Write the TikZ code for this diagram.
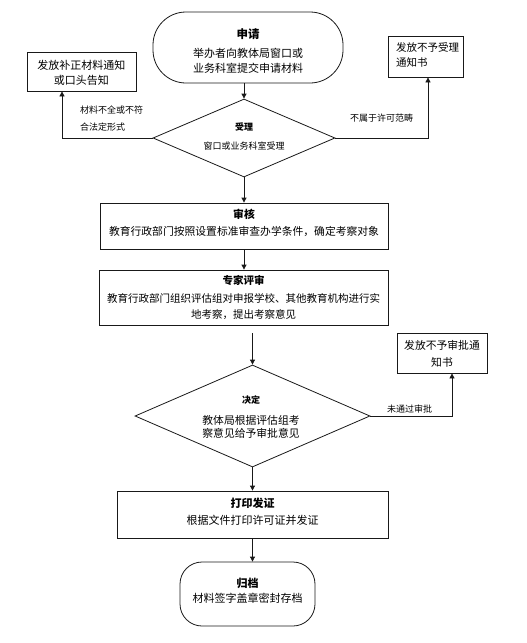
\documentclass[tikz,border=0pt]{standalone}
\usepackage{fontspec}
\setmainfont{Noto Sans CJK SC}
\usetikzlibrary{shapes.geometric,arrows.meta}
\begin{document}
\begin{tikzpicture}[x=1pt,y=-1pt,
  shp/.style={draw=black!90, line width=0.8pt, inner sep=0pt},
  boxshape/.style={shp, rectangle},
  termshape/.style={shp, rectangle},
  decshape/.style={shp, diamond},
  txt/.style={inner sep=0pt, align=center, font=\fontsize{11}{15}\selectfont},
  lbl/.style={inner sep=0pt, align=left, font=\fontsize{9}{17}\selectfont},
  arr/.style={draw=black!90, line width=0.8pt, -{Triangle[length=5pt,width=5pt]}}
]
\useasboundingbox (0,0) rectangle (527,643);

% shapes
\node[termshape, rounded corners=33pt, minimum width=190pt, minimum height=71pt] (sq) at (248,47.5) {};
\node[decshape, aspect=2.33, minimum width=182pt, minimum height=78pt] (d1) at (244,138) {};
\node[boxshape, minimum width=109pt, minimum height=39pt] (lb) at (81.5,71.5) {};
\node[boxshape, minimum width=75pt, minimum height=41pt] (rb1) at (425.5,56.5) {};
\node[boxshape, minimum width=288pt, minimum height=46pt] (sh) at (244,226) {};
\node[boxshape, minimum width=289pt, minimum height=55pt] (zj) at (243.5,297.5) {};
\node[decshape, aspect=2.3, minimum width=235pt, minimum height=102pt] (d2) at (252.5,416) {};
\node[boxshape, minimum width=90pt, minimum height=40pt] (rb2) at (442,353) {};
\node[boxshape, minimum width=271pt, minimum height=47pt] (dy) at (252.5,514.5) {};
\node[termshape, rounded corners=22pt, minimum width=135pt, minimum height=64pt] (gd) at (247.5,594) {};

% texts
\node[txt] (sq-t) at (248,51) {{\fontsize{11.5}{15}\selectfont\bfseries 申请}\\[4pt]举办者向教体局窗口或\\业务科室提交申请材料};
\node[txt, font=\fontsize{9}{19}\selectfont] (d1-t) at (244,136.5) {{\bfseries 受理}\\窗口或业务科室受理};
\node[txt] (lb-t) at (81.5,72.5) {发放补正材料通知\\或口头告知};
\node[txt, align=left, anchor=west, font=\fontsize{10.5}{15}\selectfont] (rb1-t) at (396,54.5) {发放不予受理\\通知书};
\node[txt, font=\fontsize{10.8}{15}\selectfont] (sh-t) at (244,222.5) {{\bfseries 审核}\\[2pt]教育行政部门按照设置标准审查办学条件，确定考察对象};
\node[txt, font=\fontsize{10.5}{16}\selectfont] (zj-t) at (243.5,297) {{\bfseries 专家评审}\\[2pt]教育行政部门组织评估组对申报学校、其他教育机构进行实\\地考察，提出考察意见};
\node[txt, font=\fontsize{10.8}{13.5}\selectfont] (d2-t) at (251,417.5) {{\fontsize{9}{9}\selectfont\bfseries 决定}\\[7pt]教体局根据评估组考\\察意见给予审批意见};
\node[txt, font=\fontsize{10.8}{17}\selectfont] (rb2-t) at (442,353.5) {发放不予审批通\\知书};
\node[txt, font=\fontsize{11}{17}\selectfont] (dy-t) at (252.5,511.5) {{\bfseries 打印发证}\\根据文件打印许可证并发证};
\node[txt, font=\fontsize{11}{15}\selectfont] (gd-t) at (247.5,590.5) {{\bfseries 归档}\\材料签字盖章密封存档};

% edge labels
\node[lbl, anchor=west] (l1) at (80,118.5) {材料不全或不符\\合法定形式};
\node[lbl, anchor=west] (l2) at (350,118) {不属于许可范畴};
\node[lbl, anchor=west] (l3) at (387,409) {未通过审批};

% connectors
\draw[arr] (sq.south -| d1.north) -- (d1.north);
\draw[arr] (d1.west) -| ([xshift=-19.5pt]lb.south);
\draw[arr] (d1.east) -| ([xshift=2.5pt]rb1.south);
\draw[arr] (d1.south) -- (d1.south |- sh.north);
\draw[arr] (sh.south) -- (sh.south |- zj.north);
\draw[arr] ([yshift=-8pt]zj.south -| d2.north) -- (d2.north);
\draw[arr] (d2.east) -| ([xshift=10pt]rb2.south);
\draw[arr] (d2.south) -- (dy.north);
\draw[arr] (dy.south) -- (dy.south |- gd.north);
\end{tikzpicture}
\end{document}
